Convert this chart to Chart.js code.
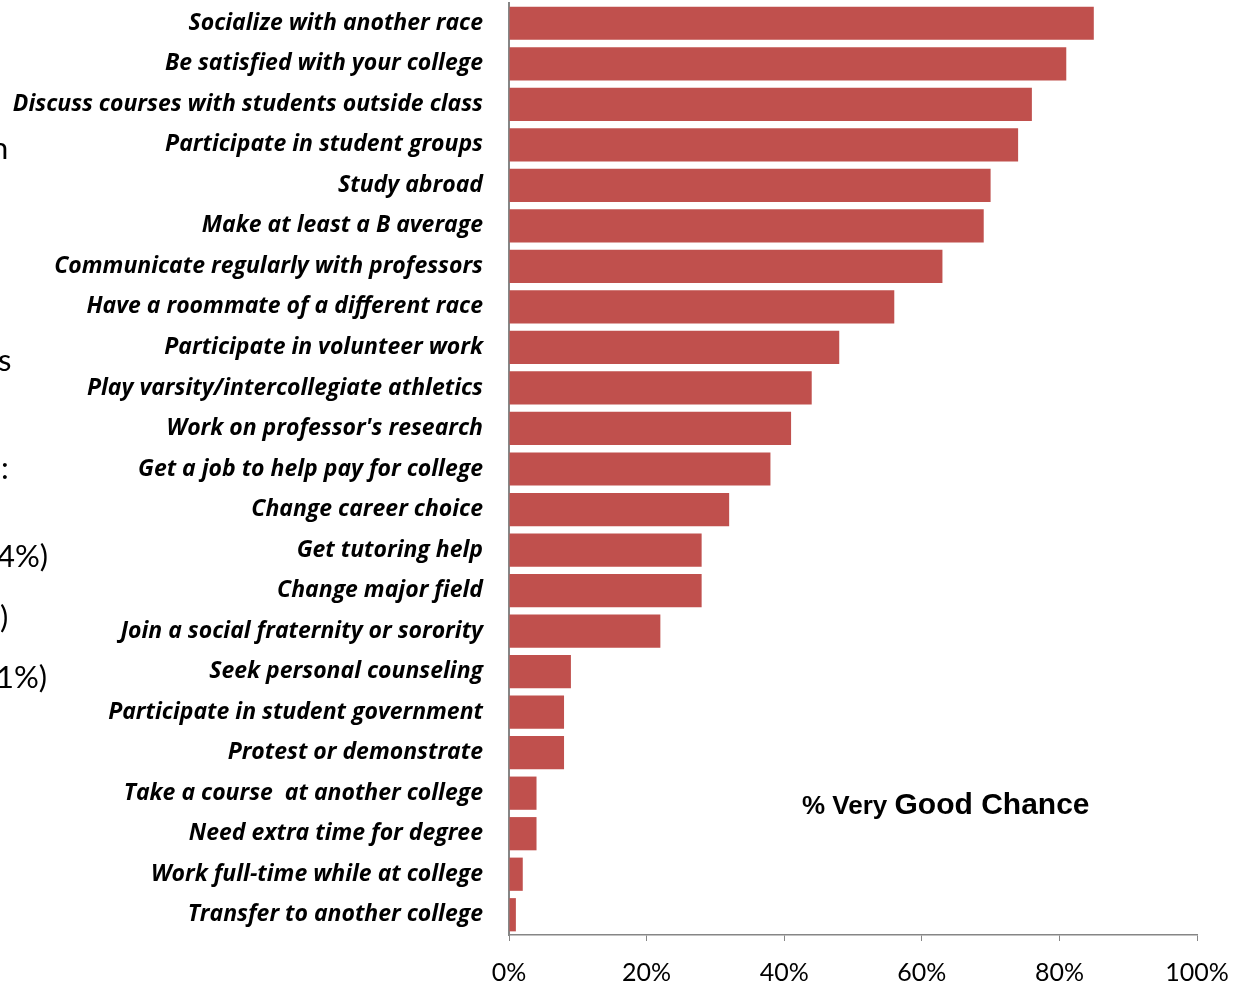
<!DOCTYPE html>
<html>
<head>
<meta charset="utf-8">
<script src="https://cdn.jsdelivr.net/npm/chart.js@4/dist/chart.umd.min.js"></script>
<style>
  html, body { margin: 0; padding: 0; background: #fff; }
  #wrap { position: relative; width: 1243px; height: 983px; overflow: hidden; }
  .frag { position: absolute; left: -2px; font-family: Lato, "Open Sans", sans-serif; font-size: 31px; color: #000; line-height: 1; }
  #note { position: absolute; left: 802px; top: 787px; font-family: "Liberation Sans", Arial, sans-serif; font-weight: bold; color: #000; white-space: nowrap; }
</style>
</head>
<body>
<div id="wrap">
  <canvas id="myChart" width="1243" height="983"></canvas>
  <div class="frag" style="top:132px;left:-9px">n</div>
  <div class="frag" style="top:344px">s</div>
  <div class="frag" style="top:452px;left:1px">:</div>
  <div class="frag" style="top:540px;left:-3px">4%)</div>
  <div class="frag" style="top:601px;left:0px">)</div>
  <div class="frag" style="top:661px;left:-4px">1%)</div>
  <div id="note"><span style="font-size:26px">% Very </span><span style="font-size:30px">Good Chance</span></div>
</div>
<script>
const categories = [
  'Socialize with another race',
  'Be satisfied with your college',
  'Discuss courses with students outside class',
  'Participate in student groups',
  'Study abroad',
  'Make at least a B average',
  'Communicate regularly with professors',
  'Have a roommate of a different race',
  'Participate in volunteer work',
  'Play varsity/intercollegiate athletics',
  "Work on professor's research",
  'Get a job to help pay for college',
  'Change career choice',
  'Get tutoring help',
  'Change major field',
  'Join a social fraternity or sorority',
  'Seek personal counseling',
  'Participate in student government',
  'Protest or demonstrate',
  'Take a course  at another college',
  'Need extra time for degree',
  'Work full-time while at college',
  'Transfer to another college'
];
const veryGoodChance = [85, 81, 76, 74, 70, 69, 63, 56, 48, 44, 41, 38, 32, 28, 28, 22, 9, 8, 8, 4, 4, 2, 1];
const xTicks = [0, 20, 40, 60, 80, 100];

const config = {
  type: 'bar',
  data: {
    labels: categories,
    datasets: [{
      label: '% Very Good Chance',
      data: veryGoodChance,
      backgroundColor: '#C0504D',
      borderWidth: 0,
      barPercentage: 0.82,
      categoryPercentage: 1.0
    }]
  },
  options: {
    indexAxis: 'y',
    responsive: false,
    animation: false,
    layout: { padding: { top: 3, right: 46, left: 0, bottom: 0 } },
    plugins: { legend: { display: false }, tooltip: { enabled: false } },
    scales: {
      x: {
        min: 0,
        max: 100,
        afterBuildTicks: (scale) => { scale.ticks = xTicks.map(v => ({ value: v })); },
        afterFit: (scale) => { scale.height = 48; scale.paddingLeft = 0; scale.paddingRight = 0; },
        grid: { drawOnChartArea: false, drawTicks: true, tickLength: 6, color: '#868686' },
        border: { color: '#868686', width: 1.5 },
        ticks: {
          padding: 17,
          color: '#000',
          font: { family: 'Lato', size: 25 },
          callback: (v) => v + '%'
        }
      },
      y: {
        afterFit: (scale) => { scale.width = 509; scale.paddingTop = 0; scale.paddingBottom = 0; },
        grid: { display: false, drawTicks: false },
        border: { color: '#868686', width: 2 },
        ticks: {
          padding: 26,
          color: '#000',
          font: { family: 'Open Sans', size: 23, style: 'italic', weight: 'bold' }
        }
      }
    }
  }
};

const myChart = new Chart(document.getElementById('myChart'), config);
</script>
</body>
</html>
